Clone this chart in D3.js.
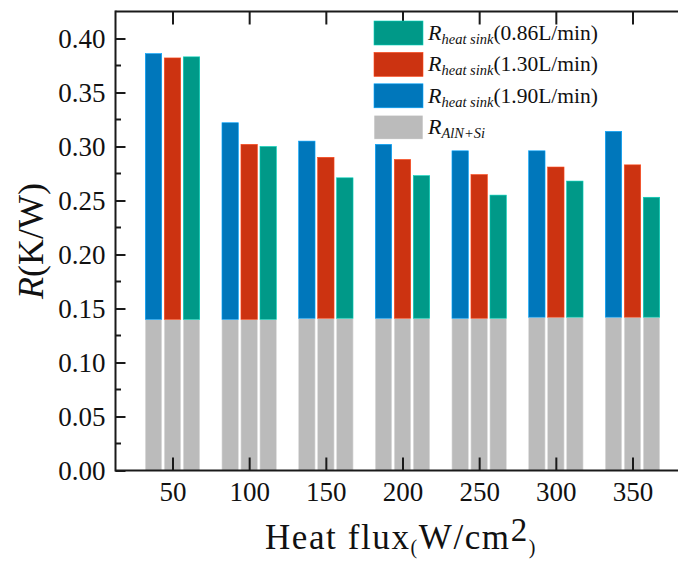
<!DOCTYPE html>
<html>
<head>
<meta charset="utf-8">
<script src="https://cdn.jsdelivr.net/npm/d3@7"></script>
<style>
  html, body { margin: 0; padding: 0; background: #fff; }
  svg { display: block; }
  svg text { font-family: "Liberation Serif", Tinos, "Times New Roman", Times, "DejaVu Serif", serif; fill: #111; }
</style>
</head>
<body>
<svg id="chart" width="678" height="561"></svg>
<script>
// ---- data ----
const heatFlux = [50, 100, 150, 200, 250, 300, 350];
const rAlnSi   = [0.140, 0.140, 0.141, 0.141, 0.141, 0.142, 0.142];
// heat-sink resistance (segment stacked above R_AlN+Si)
const rHs190 = [0.246, 0.182, 0.164, 0.161, 0.155, 0.154, 0.172];
const rHs130 = [0.242, 0.162, 0.149, 0.147, 0.133, 0.139, 0.141];
const rHs086 = [0.243, 0.160, 0.130, 0.132, 0.114, 0.126, 0.111];
const yTicks = [0.00, 0.05, 0.10, 0.15, 0.20, 0.25, 0.30, 0.35, 0.40];
const series = [
  { key: "1.90", values: rHs190, color: "#0077BB", offset: -1 },
  { key: "1.30", values: rHs130, color: "#CC3311", offset: 0 },
  { key: "0.86", values: rHs086, color: "#009988", offset: 1 }
];
const legendItems = [
  { main: "R", sub: "heat sink", tail: "(0.86L/min)", color: "#009988" },
  { main: "R", sub: "heat sink", tail: "(1.30L/min)", color: "#CC3311" },
  { main: "R", sub: "heat sink", tail: "(1.90L/min)", color: "#0077BB" },
  { main: "R", sub: "AlN+Si", tail: "", color: "#BBBBBB" }
];

// ---- layout ----
const FONT = '"Liberation Serif", Tinos, "Times New Roman", Times, "DejaVu Serif", serif';
const svg = d3.select("#chart");
const pL = 115.5, pT = 11.5, pB = 470.5, pR = 678;
const x = d3.scaleLinear().domain([50, 350]).range([172.5, 632.5]);
const y = d3.scaleLinear().domain([0, 0.425]).range([pB, pT]);
const step = 19, barW = 16.4;

// ---- bars ----
const g = svg.append("g");
series.forEach(s => {
  g.selectAll(null).data(heatFlux).enter().append("rect")
    .attr("x", (d) => x(d) + s.offset * step - barW / 2)
    .attr("width", barW)
    .attr("y", (d, i) => y(rAlnSi[i]))
    .attr("height", (d, i) => y(0) - y(rAlnSi[i]))
    .attr("fill", "#BBBBBB")
    .attr("stroke", "#dcdcdc").attr("stroke-width", 0.6);
  g.selectAll(null).data(heatFlux).enter().append("rect")
    .attr("x", (d) => x(d) + s.offset * step - barW / 2)
    .attr("width", barW)
    .attr("y", (d, i) => y(rAlnSi[i] + s.values[i]))
    .attr("height", (d, i) => y(rAlnSi[i]) - y(rAlnSi[i] + s.values[i]))
    .attr("fill", s.color)
    .attr("stroke", d3.color(s.color).brighter(0.9)).attr("stroke-width", 0.6);
});

// ---- axes ----
const axisColor = "#1a1a1a";
svg.append("line").attr("x1", pL).attr("x2", pR).attr("y1", pB).attr("y2", pB)
  .attr("stroke", axisColor).attr("stroke-width", 2);
svg.append("line").attr("x1", pL).attr("x2", pR).attr("y1", pT).attr("y2", pT)
  .attr("stroke", axisColor).attr("stroke-width", 2);
svg.append("line").attr("x1", pL).attr("x2", pL).attr("y1", pT - 1).attr("y2", pB + 1)
  .attr("stroke", axisColor).attr("stroke-width", 2);

const xAxis = d3.axisBottom(x).tickValues(heatFlux).tickSizeInner(-13).tickSizeOuter(0).tickPadding(11);
const gx = svg.append("g").attr("transform", `translate(0,${pB})`).call(xAxis)
  .attr("font-family", FONT);
gx.select(".domain").remove();
gx.selectAll(".tick line").attr("stroke", axisColor).attr("stroke-width", 2);
gx.selectAll(".tick text").attr("font-size", 27).attr("fill", "#111");

const xTop = d3.axisTop(x).tickValues(heatFlux).tickSizeInner(-13).tickSizeOuter(0).tickFormat("");
const gxt = svg.append("g").attr("transform", `translate(0,${pT})`).call(xTop);
gxt.select(".domain").remove();
gxt.selectAll(".tick line").attr("stroke", axisColor).attr("stroke-width", 2);

const yAxis = d3.axisLeft(y).tickValues(yTicks).tickFormat(d3.format(".2f"))
  .tickSizeInner(-10).tickSizeOuter(0).tickPadding(10);
const gy = svg.append("g").attr("transform", `translate(${pL},0)`).call(yAxis)
  .attr("font-family", FONT);
gy.select(".domain").remove();
gy.selectAll(".tick line").attr("stroke", axisColor).attr("stroke-width", 2);
gy.selectAll(".tick text").attr("font-size", 27).attr("fill", "#111");
const minor = d3.range(0.025, 0.425, 0.05);
svg.append("g").selectAll("line").data(minor).enter().append("line")
  .attr("x1", pL).attr("x2", pL + 5.5)
  .attr("y1", d => y(d)).attr("y2", d => y(d))
  .attr("stroke", axisColor).attr("stroke-width", 2);

// ---- axis titles ----
const yt = svg.append("text")
  .attr("transform", "translate(43,241) rotate(-90)")
  .attr("text-anchor", "middle").attr("font-size", 36).attr("font-family", FONT);
yt.append("tspan").attr("font-style", "italic").text("R");
yt.append("tspan").text("(K/W)");

const xt = svg.append("text").attr("x", 401).attr("y", 549)
  .attr("text-anchor", "middle").attr("font-size", 35).attr("letter-spacing", 1.6)
  .attr("font-family", FONT);
xt.append("tspan").text("Heat flux");
xt.append("tspan").attr("font-size", 20).attr("dy", 5).text("(");
xt.append("tspan").attr("font-size", 35).attr("dy", -5).text("W/cm");
xt.append("tspan").attr("font-size", 33).attr("dy", -8).text("2");
xt.append("tspan").attr("font-size", 20).attr("dy", 13).text(")");

// ---- legend ----
const lg = svg.append("g").attr("font-family", FONT);
legendItems.forEach((it, i) => {
  const ry = 21 + i * 31.4;
  lg.append("rect").attr("x", 374).attr("y", ry).attr("width", 49).attr("height", 24)
    .attr("fill", it.color).attr("stroke", d3.color(it.color).brighter(0.9)).attr("stroke-width", 0.6);
  const t = lg.append("text").attr("x", 428).attr("y", ry + 19).attr("font-size", 22);
  t.append("tspan").attr("font-style", "italic").text(it.main);
  t.append("tspan").attr("font-style", "italic").attr("font-size", 14.5).attr("dy", 4).text(it.sub);
  if (it.tail) t.append("tspan").attr("font-size", 21.5).attr("dy", -4).text(it.tail);
});
</script>
</body>
</html>
